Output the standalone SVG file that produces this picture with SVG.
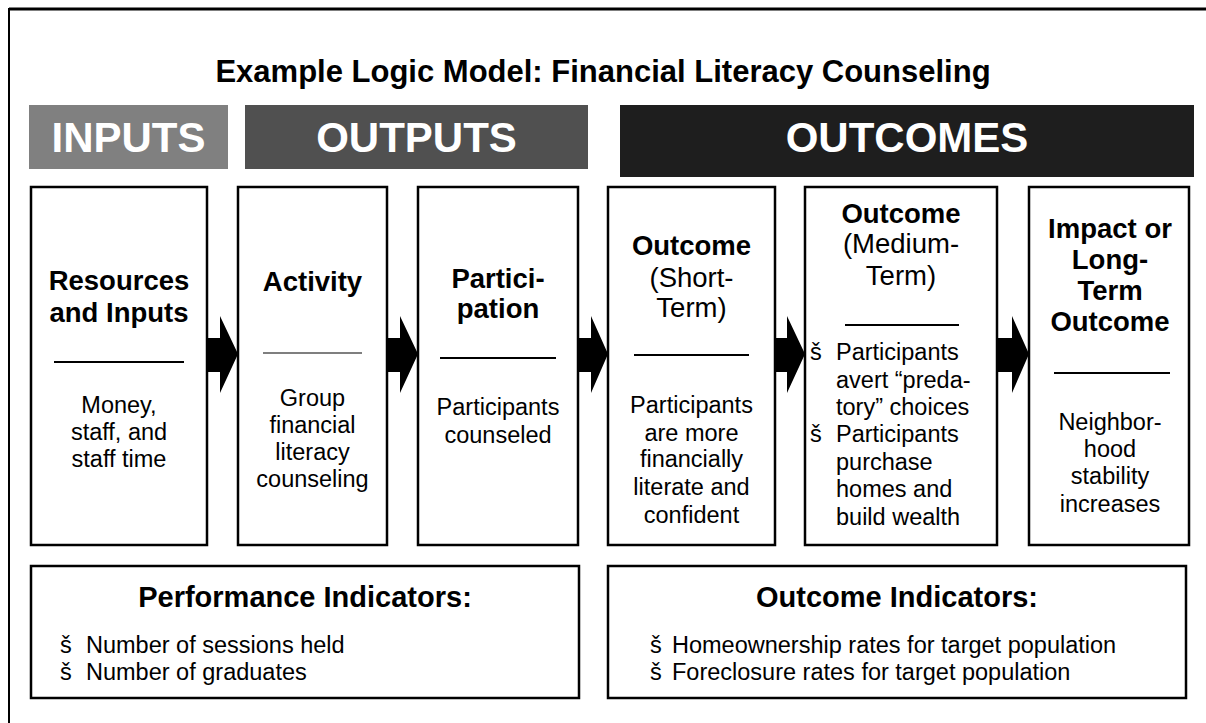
<svg xmlns="http://www.w3.org/2000/svg" width="1206" height="723" viewBox="0 0 1206 723">
<style>
text{font-family:"Liberation Sans",Arial,Helvetica,sans-serif;fill:#000}
.title{font-size:31px;font-weight:bold;text-anchor:middle}
.hdr{font-size:42px;font-weight:bold;text-anchor:middle;fill:#fff}
.h{font-size:27.5px;font-weight:bold;text-anchor:middle}
.r{font-size:27.5px;text-anchor:middle}
.b{font-size:23.5px;text-anchor:middle}
.bl{font-size:23.5px}
.it{font-size:29px;font-weight:bold;text-anchor:middle}
.box{fill:#fff;stroke:#000;stroke-width:2.5}
.div{stroke:#000;stroke-width:2}
.div1{stroke:#000;stroke-width:1.2}
.arrow{fill:#000}
</style>
<rect x="0" y="0" width="1206" height="723" fill="#fff"/>
<g id="frame">
<path d="M9,723 V9 H1206" fill="none" stroke="#000" stroke-width="2"/>
<line x1="9" y1="9" x2="1206" y2="9" stroke="#000" stroke-width="3"/>
</g>
<g id="title"><text class="title" x="603" y="82">Example Logic Model: Financial Literacy Counseling</text></g>
<g id="hdr-inputs"><rect x="29" y="105" width="199" height="64" fill="#808080"/><text class="hdr" x="128.5" y="152">INPUTS</text></g>
<g id="hdr-outputs"><rect x="245" y="105" width="343" height="64" fill="#505050"/><text class="hdr" x="416.5" y="152">OUTPUTS</text></g>
<g id="hdr-outcomes"><rect x="620" y="105" width="574" height="72" fill="#1e1e1e"/><text class="hdr" x="907" y="152">OUTCOMES</text></g>

<g id="connectors">
<path class="arrow" d="M207,338 H220 V316 L238,354 L220,393 V372 H207 Z"/>
<path class="arrow" d="M387,338 H400 V316 L418,354 L400,393 V372 H387 Z"/>
<path class="arrow" d="M578,338 H591 V316 L608,354 L591,393 V372 H578 Z"/>
<path class="arrow" d="M775,338 H787 V316 L805,354 L787,393 V372 H775 Z"/>
<path class="arrow" d="M997,338 H1012 V316 L1029,354 L1012,393 V372 H997 Z"/>
</g>

<g id="node-resources">
<rect class="box" x="31" y="187" width="176" height="358"/>
<text class="h" x="119" y="290">Resources</text>
<text class="h" x="119" y="322">and Inputs</text>
<line class="div" x1="54" y1="362" x2="184" y2="362"/>
<text class="b" x="119" y="413">Money,</text>
<text class="b" x="119" y="440">staff, and</text>
<text class="b" x="119" y="467">staff time</text>
</g>
<g id="node-activity">
<rect class="box" x="238" y="187" width="149" height="358"/>
<text class="h" x="312.5" y="291">Activity</text>
<line class="div1" x1="263" y1="353" x2="362" y2="353"/>
<text class="b" x="312.5" y="406">Group</text>
<text class="b" x="312.5" y="433">financial</text>
<text class="b" x="312.5" y="460">literacy</text>
<text class="b" x="312.5" y="487">counseling</text>
</g>
<g id="node-participation">
<rect class="box" x="418" y="187" width="160" height="358"/>
<text class="h" x="498" y="288">Partici-</text>
<text class="h" x="498" y="318">pation</text>
<line class="div" x1="440" y1="358" x2="556" y2="358"/>
<text class="b" x="498" y="415">Participants</text>
<text class="b" x="498" y="443">counseled</text>
</g>
<g id="node-short">
<rect class="box" x="608" y="187" width="167" height="358"/>
<text class="h" x="691.5" y="255">Outcome</text>
<text class="r" x="691.5" y="287">(Short-</text>
<text class="r" x="691.5" y="317">Term)</text>
<line class="div" x1="634" y1="355" x2="749" y2="355"/>
<text class="b" x="691.5" y="413">Participants</text>
<text class="b" x="691.5" y="441">are more</text>
<text class="b" x="691.5" y="467">financially</text>
<text class="b" x="691.5" y="495">literate and</text>
<text class="b" x="691.5" y="523">confident</text>
</g>
<g id="node-medium">
<rect class="box" x="805" y="187" width="192" height="358"/>
<text class="h" x="901" y="223">Outcome</text>
<text class="r" x="901" y="253">(Medium-</text>
<text class="r" x="901" y="285">Term)</text>
<line class="div" x1="845" y1="325" x2="959" y2="325"/>
<text class="bl" x="810" y="360">š</text>
<text class="bl" x="836" y="360">Participants</text>
<text class="bl" x="836" y="388">avert “preda-</text>
<text class="bl" x="836" y="415">tory” choices</text>
<text class="bl" x="810" y="442">š</text>
<text class="bl" x="836" y="442">Participants</text>
<text class="bl" x="836" y="470">purchase</text>
<text class="bl" x="836" y="497">homes and</text>
<text class="bl" x="836" y="525">build wealth</text>
</g>
<g id="node-impact">
<rect class="box" x="1029" y="187" width="160" height="358"/>
<text class="h" x="1110" y="238">Impact or</text>
<text class="h" x="1110" y="269">Long-</text>
<text class="h" x="1110" y="300">Term</text>
<text class="h" x="1110" y="331">Outcome</text>
<line class="div" x1="1054" y1="373" x2="1170" y2="373"/>
<text class="b" x="1110" y="430">Neighbor-</text>
<text class="b" x="1110" y="457">hood</text>
<text class="b" x="1110" y="484">stability</text>
<text class="b" x="1110" y="512">increases</text>
</g>
<g id="perf-indicators">
<rect class="box" x="31" y="566" width="548" height="132"/>
<text class="it" x="305" y="607">Performance Indicators:</text>
<text class="bl" x="60" y="653">š</text>
<text class="bl" x="86" y="653">Number of sessions held</text>
<text class="bl" x="60" y="680">š</text>
<text class="bl" x="86" y="680">Number of graduates</text>
</g>
<g id="outcome-indicators">
<rect class="box" x="608" y="566" width="578" height="132"/>
<text class="it" x="897" y="607">Outcome Indicators:</text>
<text class="bl" x="650" y="653">š</text>
<text class="bl" x="672" y="653">Homeownership rates for target population</text>
<text class="bl" x="650" y="680">š</text>
<text class="bl" x="672" y="680">Foreclosure rates for target population</text>
</g>
</svg>
